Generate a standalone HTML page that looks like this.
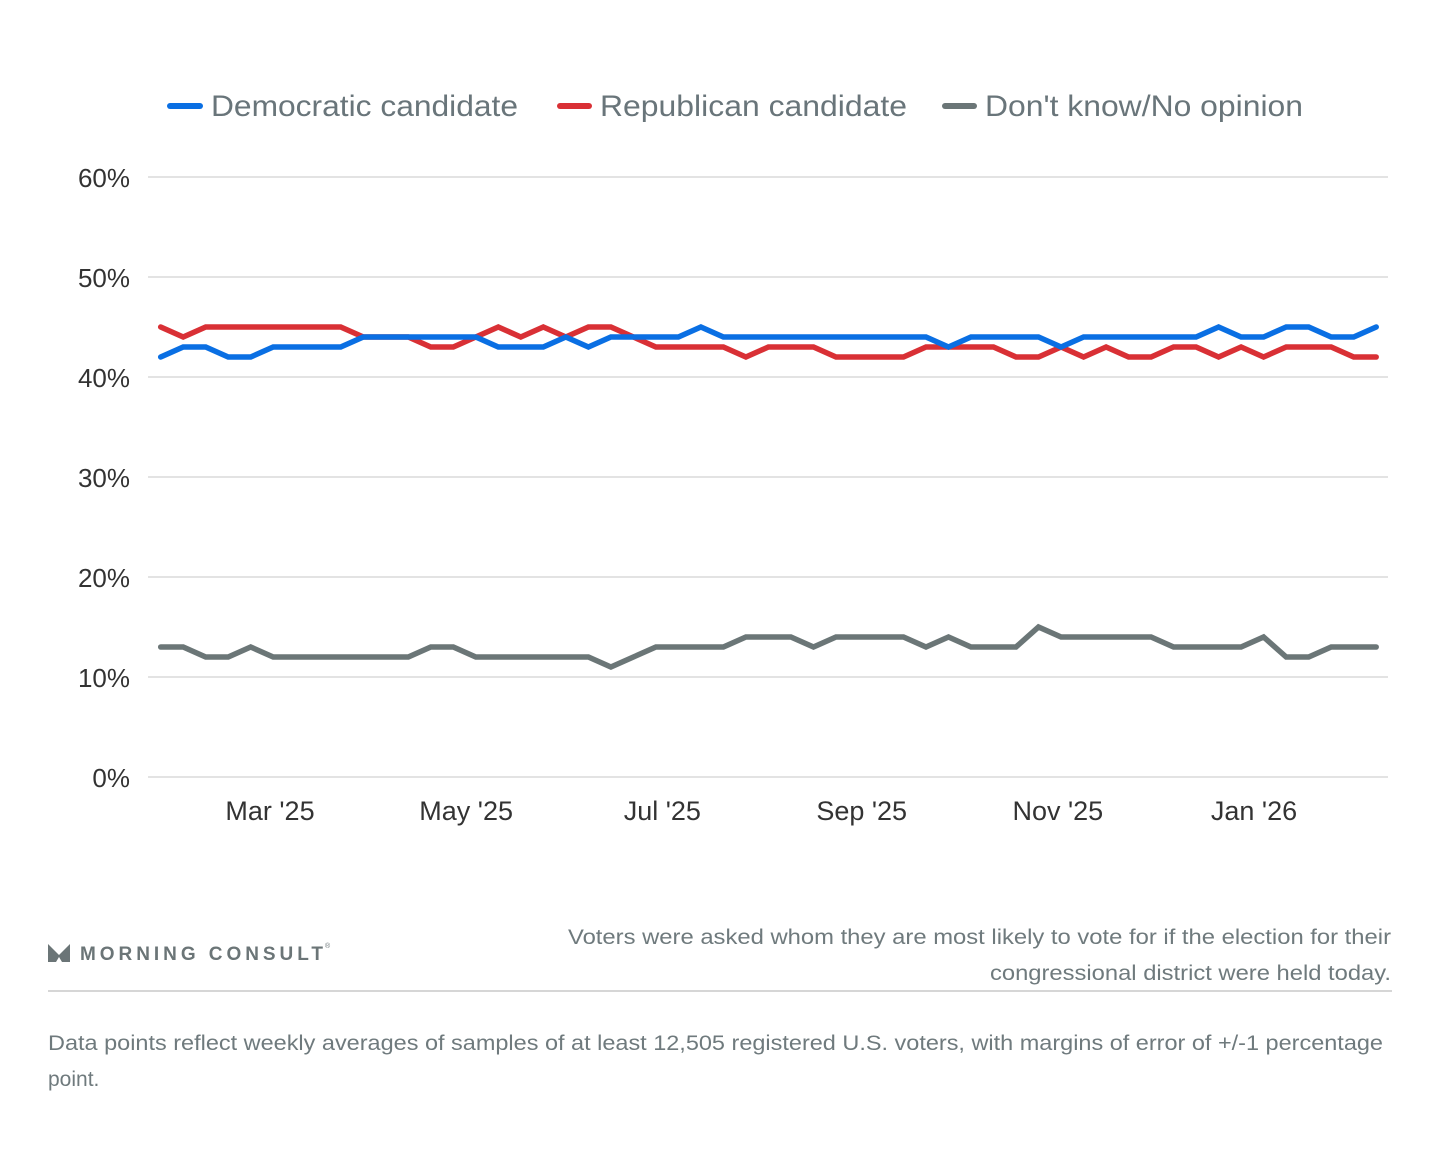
<!DOCTYPE html>
<html><head><meta charset="utf-8"><style>
body{margin:0;background:#fff;width:1440px;height:1162px;overflow:hidden;font-family:"Liberation Sans",sans-serif;}
svg text{font-family:"Liberation Sans",sans-serif;}
</style></head><body>
<svg id="chart" width="1440" height="1162" xmlns="http://www.w3.org/2000/svg">
<g id="legend">
<g><line x1="170" y1="106" x2="200" y2="106" stroke="#0a6fe3" stroke-width="6" stroke-linecap="round"/><text x="211" y="116" font-size="30" fill="#69757a" textLength="307" lengthAdjust="spacingAndGlyphs">Democratic candidate</text></g>
<g><line x1="560" y1="106" x2="589" y2="106" stroke="#d93035" stroke-width="6" stroke-linecap="round"/><text x="600" y="116" font-size="30" fill="#69757a" textLength="307" lengthAdjust="spacingAndGlyphs">Republican candidate</text></g>
<g><line x1="945" y1="106" x2="974" y2="106" stroke="#6b7677" stroke-width="6" stroke-linecap="round"/><text x="985" y="116" font-size="30" fill="#69757a" textLength="318" lengthAdjust="spacingAndGlyphs">Don't know/No opinion</text></g>
</g>
<g id="grid"></g><g id="yaxis"></g><g id="xaxis"></g><g id="series"></g>
<g>
<g>
<path d="M48 944 L48 962 L56 962 L59 957 L62 962 L70 962 L70 944 L59 955 Z" fill="#6b7577"/>
<text x="80" y="960" font-size="19" font-weight="bold" fill="#6b7577" textLength="243" lengthAdjust="spacing">MORNING CONSULT</text>
<text x="325" y="948" font-size="7" fill="#6b7577">®</text></g>
<text x="568" y="944" font-size="21" fill="#6f7a7d" textLength="823" lengthAdjust="spacingAndGlyphs">Voters were asked whom they are most likely to vote for if the election for their</text>
<text x="990" y="980" font-size="21" fill="#6f7a7d" textLength="401" lengthAdjust="spacingAndGlyphs">congressional district were held today.</text>
<line x1="48" y1="991" x2="1392" y2="991" stroke="#d6d6d6" stroke-width="2"/>
<text x="48" y="1050" font-size="21" fill="#6f7a7d" textLength="1335" lengthAdjust="spacingAndGlyphs">Data points reflect weekly averages of samples of at least 12,505 registered U.S. voters, with margins of error of +/-1 percentage</text>
<text x="48" y="1086" font-size="21" fill="#6f7a7d">point.</text>
</g>
</svg>
<script>
const yTicks=[0,10,20,30,40,50,60];
const xTickLabels=["Mar '25","May '25","Jul '25","Sep '25","Nov '25","Jan '26"];
const xTickDates=["2025-03-01","2025-05-01","2025-07-01","2025-09-01","2025-11-01","2026-01-01"];
const startDate="2025-01-26";
const dem=[42,43,43,42,42,43,43,43,43,44,44,44,44,44,44,43,43,43,44,43,44,44,44,44,45,44,44,44,44,44,44,44,44,44,44,43,44,44,44,44,43,44,44,44,44,44,44,45,44,44,45,45,44,44,45];
const rep=[45,44,45,45,45,45,45,45,45,44,44,44,43,43,44,45,44,45,44,45,45,44,43,43,43,43,42,43,43,43,42,42,42,42,43,43,43,43,42,42,43,42,43,42,42,43,43,42,43,42,43,43,43,42,42];
const dk=[13,13,12,12,13,12,12,12,12,12,12,12,13,13,12,12,12,12,12,12,11,12,13,13,13,13,14,14,14,13,14,14,14,14,13,14,13,13,13,15,14,14,14,14,14,13,13,13,13,14,12,12,13,13,13];
const NS="http://www.w3.org/2000/svg";
const DAY=86400000;
const t0=Date.parse("2025-03-01"), t1=Date.parse("2026-01-01");
function x(t){return 270+(t-t0)/(t1-t0)*984;}
function y(v){return 777-v*10;}
function mk(tag,attrs,parent){const e=document.createElementNS(NS,tag);for(const k in attrs)e.setAttribute(k,attrs[k]);parent.appendChild(e);return e;}
const grid=document.getElementById('grid'),ya=document.getElementById('yaxis'),xa=document.getElementById('xaxis'),ser=document.getElementById('series');
yTicks.forEach(v=>{
 const l=mk('line',{x1:148,x2:1388,y1:y(v),y2:y(v),stroke:'#e3e3e3','stroke-width':2},grid);
 
 
 const t=mk('text',{x:130,y:y(v)+10,'font-size':26,fill:'#333','text-anchor':'end'},ya);
 t.textContent=v+'%';
 
 
});
xTickLabels.forEach((s,i)=>{
 const t=mk('text',{x:x(Date.parse(xTickDates[i])),y:820,'font-size':27,fill:'#333','text-anchor':'middle'},xa);
 t.textContent=s;
 
 
});
const s0=Date.parse(startDate);
function draw(vals,color,name){
 const pts=vals.map((v,i)=>x(s0+i*7*DAY).toFixed(1)+','+y(v)).join(' ');
 const p=mk('polyline',{points:pts,fill:'none',stroke:color,'stroke-width':5.5,'stroke-linejoin':'miter','stroke-linecap':'round'},ser);
 
 
}
draw(dk,'#6b7677','series-dont-know');
draw(rep,'#d93035','series-republican');
draw(dem,'#0a6fe3','series-democratic');
</script>
</body></html>
